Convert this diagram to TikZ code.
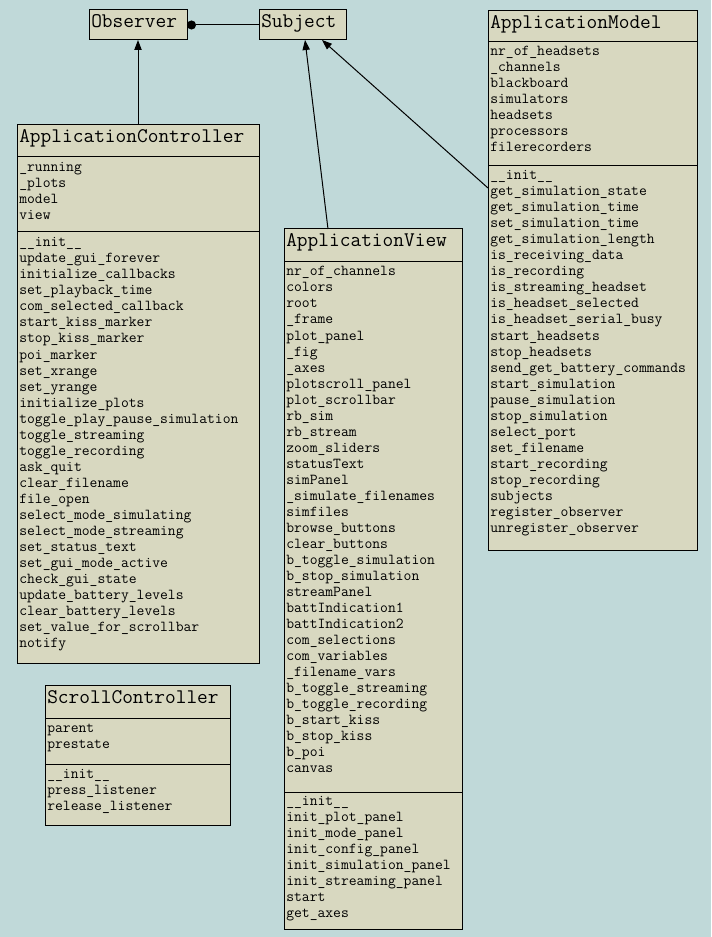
\documentclass[tikz,border=0pt]{standalone}
\usepackage{fontspec}
\usetikzlibrary{arrows.meta}

\definecolor{canvasbg}{RGB}{192,217,217}
\definecolor{classfill}{RGB}{216,216,192}

\begin{document}
\begin{tikzpicture}[
		x=0.75pt, y=-0.75pt,
		% Define styles for the class boxes
		classbox/.style={
			rectangle, draw=black, fill=classfill, line width=0.75pt,
			inner sep=0pt, outer sep=0pt, anchor=north west
		},
		classname/.style={
			anchor=base west, inner sep=0pt, font=\ttfamily\fontsize{15.6}{18}\selectfont
		},
		member/.style={
			anchor=base west, inner sep=0pt, font=\ttfamily\fontsize{11.4}{12}\selectfont
		},
		divider/.style={line width=0.75pt},
		% Define styles for the connectors
		inherit/.style={
			-{Triangle[length=7.5pt, width=5.5pt]}, line width=0.75pt
		},
		observes/.style={
			{Circle[length=6.75pt]}-, line width=0.75pt
		}
		]
		
		\fill[canvasbg] (0,0) rectangle (711,937);
		\useasboundingbox (0,0) rectangle (711,937);
		
		% Observer and Subject
		\node[classbox, minimum width=98*0.75pt, minimum height=30*0.75pt] (observer) at (89,10) {};
		\node[classname] (observer-name) at (91,28) {Observer};
		
		\node[classbox, minimum width=87*0.75pt, minimum height=30*0.75pt] (subject) at (259,10) {};
		\node[classname] (subject-name) at (261,28) {Subject};
		
		% ApplicationController
		\node[classbox, minimum width=242*0.75pt, minimum height=538*0.75pt] (controller) at (17,125) {};
		\node[classname] (controller-name) at (19,143) {ApplicationController};
		\draw[divider] (17,157) -- (259,157);
		\draw[divider] (17,232) -- (259,232);
		\foreach \attr [count=\i from 0] in {\_running, \_plots, model, view}
			\node[member] (controller-a\i) at (19,172+16*\i) {\attr};
		\foreach \meth [count=\i from 0] in {\_\_init\_\_, update\_gui\_forever, initialize\_callbacks,
				set\_playback\_time, com\_selected\_callback, start\_kiss\_marker, stop\_kiss\_marker,
				poi\_marker, set\_xrange, set\_yrange, initialize\_plots, toggle\_play\_pause\_simulation,
				toggle\_streaming, toggle\_recording, ask\_quit, clear\_filename, file\_open,
				select\_mode\_simulating, select\_mode\_streaming, set\_status\_text, set\_gui\_mode\_active,
				check\_gui\_state, update\_battery\_levels, clear\_battery\_levels,
				set\_value\_for\_scrollbar, notify}
			\node[member] (controller-m\i) at (19,247+16*\i) {\meth};
		
		% ApplicationView
		\node[classbox, minimum width=178*0.75pt, minimum height=700*0.75pt] (view) at (284,229) {};
		\node[classname] (view-name) at (286,247) {ApplicationView};
		\draw[divider] (284,262) -- (462,262);
		\draw[divider] (284,792) -- (462,792);
		\foreach \attr [count=\i from 0] in {nr\_of\_channels, colors, root, \_frame, plot\_panel,
				\_fig, \_axes, plotscroll\_panel, plot\_scrollbar, rb\_sim, rb\_stream, zoom\_sliders,
				statusText, simPanel, \_simulate\_filenames, simfiles, browse\_buttons, clear\_buttons,
				b\_toggle\_simulation, b\_stop\_simulation, streamPanel, battIndication1, battIndication2,
				com\_selections, com\_variables, \_filename\_vars, b\_toggle\_streaming,
				b\_toggle\_recording, b\_start\_kiss, b\_stop\_kiss, b\_poi, canvas}
			\node[member] (view-a\i) at (286,276+16*\i) {\attr};
		\foreach \meth [count=\i from 0] in {\_\_init\_\_, init\_plot\_panel, init\_mode\_panel,
				init\_config\_panel, init\_simulation\_panel, init\_streaming\_panel, start, get\_axes}
			\node[member] (view-m\i) at (286,805+16*\i) {\meth};
		
		% ApplicationModel
		\node[classbox, minimum width=209*0.75pt, minimum height=539*0.75pt] (model) at (488,11) {};
		\node[classname] (model-name) at (490,29) {ApplicationModel};
		\draw[divider] (488,42) -- (697,42);
		\draw[divider] (488,166) -- (697,166);
		\foreach \attr [count=\i from 0] in {nr\_of\_headsets, \_channels, blackboard, simulators,
				headsets, processors, filerecorders}
			\node[member] (model-a\i) at (490,56+16*\i) {\attr};
		\foreach \meth [count=\i from 0] in {\_\_init\_\_, get\_simulation\_state, get\_simulation\_time,
				set\_simulation\_time, get\_simulation\_length, is\_receiving\_data, is\_recording,
				is\_streaming\_headset, is\_headset\_selected, is\_headset\_serial\_busy, start\_headsets,
				stop\_headsets, send\_get\_battery\_commands, start\_simulation, pause\_simulation,
				stop\_simulation, select\_port, set\_filename, start\_recording, stop\_recording,
				subjects, register\_observer, unregister\_observer}
			\node[member] (model-m\i) at (490,180+16*\i) {\meth};
		
		% ScrollController
		\node[classbox, minimum width=185*0.75pt, minimum height=140*0.75pt] (scroll) at (45,685) {};
		\node[classname] (scroll-name) at (47,703) {ScrollController};
		\draw[divider] (45,718) -- (230,718);
		\draw[divider] (45,764) -- (230,764);
		\foreach \attr [count=\i from 0] in {parent, prestate}
			\node[member] (scroll-a\i) at (47,732+16*\i) {\attr};
		\foreach \meth [count=\i from 0] in {\_\_init\_\_, press\_listener, release\_listener}
			\node[member] (scroll-m\i) at (47,778+16*\i) {\meth};
		
		% Draw connections between the classes
		\draw[observes] (observer) -- (subject);
		\draw[inherit] (controller) -- (observer);
		\draw[inherit] ([xshift=44*0.75pt]view.north west) -- ([xshift=46*0.75pt]subject.south west);
		\draw[inherit] ([yshift=-177*0.75pt]model.north west) -- ([xshift=63*0.75pt]subject.south west);
		
	\end{tikzpicture}
\end{document}
